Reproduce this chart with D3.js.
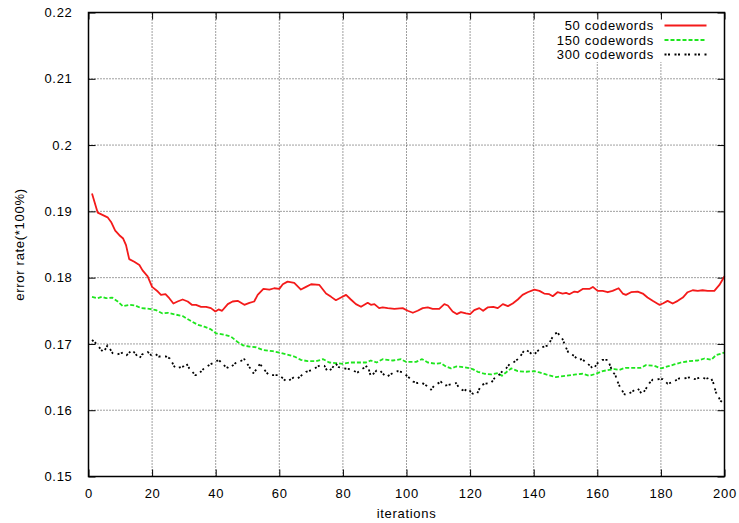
<!DOCTYPE html>
<html>
<head>
<meta charset="utf-8">
<script src="https://cdn.jsdelivr.net/npm/d3@7/dist/d3.min.js"></script>
<style>
  html, body { margin: 0; padding: 0; background: #fff; }
  svg { display: block; }
  text { font-family: "Liberation Sans", Arial, Helvetica, sans-serif; font-size: 13px; letter-spacing: 0.7px; fill: #000; }
</style>
</head>
<body>
<svg id="chart" width="739" height="523"></svg>
<script>
const xTicks = [0, 20, 40, 60, 80, 100, 120, 140, 160, 180, 200];
const yTicks = [0.15, 0.16, 0.17, 0.18, 0.19, 0.20, 0.21, 0.22];
const yTickLabels = ["0.15", "0.16", "0.17", "0.18", "0.19", "0.2", "0.21", "0.22"];
const seriesNames = ["50 codewords", "150 codewords", "300 codewords"];

const redX = [1.1,2.9,6,7.1,8.4,9.7,10.9,11.8,12.8,14.4,16,17,18.6,20,21.8,22.8,24.2,25.4,26.7,28,29.6,31.2,32.5,33.8,35.4,37,38.5,39.9,40.9,42,43.8,45.3,46.9,49,50.6,52.1,53.2,55,56.9,58.4,60,61.1,62.6,64.7,66.8,68.4,70,72.6,74.7,76.3,77.8,79.4,81,82.5,84.1,85.7,87.8,88.8,89.9,91.4,92.5,94.1,96.2,98.8,100.4,102,103.5,105.1,106.7,108.2,110.3,111.9,113,114.5,115.8,117.1,118.7,120,121.3,122.9,124.1,125.5,127.3,128.7,130.3,131.9,133.4,135,136.5,138.1,140.2,141.8,143.3,144.9,146,147.5,149.1,150.2,151.2,152.8,153.8,155.4,157.5,158.6,160.1,161.7,163.3,164.8,166.7,168,169,170.6,172.7,174.3,175.8,177.4,179.5,180.6,182.1,183.7,185.3,186.9,188.4,190,191.6,193.1,194.7,196.8,198.4,200];
const redY = [.1927,.1898,.1891,.1884,.1871,.1864,.1859,.1849,.1828,.1824,.1819,.1811,.1802,.1786,.1779,.1774,.1775,.1769,.1761,.1764,.1767,.1764,.1759,.1759,.1756,.1756,.1754,.1749,.1752,.1750,.1760,.1764,.1765,.1759,.1762,.1764,.1774,.1783,.1782,.1784,.1783,.1790,.1794,.1792,.1782,.1786,.1790,.1789,.1776,.1771,.1766,.1770,.1774,.1767,.1760,.1756,.1762,.1759,.1760,.1754,.1755,.1754,.1753,.1754,.1750,.1747,.1750,.1754,.1755,.1753,.1753,.1760,.1758,.1749,.1745,.1748,.1746,.1745,.1751,.1754,.1750,.1755,.1756,.1754,.1760,.1757,.1761,.1767,.1774,.1778,.1782,.1780,.1776,.1775,.1772,.1778,.1776,.1777,.1775,.1779,.1778,.1783,.1783,.1786,.1780,.1780,.1778,.1780,.1784,.1776,.1774,.1778,.1779,.1776,.1770,.1765,.1759,.1761,.1765,.1761,.1765,.1770,.1778,.1781,.1780,.1781,.1780,.1780,.1789,.1802];

const greenX = [1.1,2.9,4.2,5.5,7.4,9.2,10.8,12.8,14.7,16.5,19.1,21.2,23.3,24.9,26.7,29.6,31.7,34.3,36.4,38.5,40.1,42.7,44.8,46.9,48.5,50.6,52.7,54.8,57.9,60,63.1,64.7,66.8,68.9,71.5,73.8,75.7,77.8,79.9,82,84.1,87.3,88.8,90.6,92.5,95.7,98.3,99.8,103,104.9,106.7,109.3,110.8,112.4,114,115.6,118.2,120.8,122.4,124.5,126.6,128.7,130,131.3,132.9,135,137.6,140.2,141.8,143.9,147,150.2,153.3,155.4,157.5,159.6,161.7,163.8,165.4,167,168.8,171.2,173.7,175.3,177.9,180,182.1,184.2,186.3,188.9,191.6,193.7,195.8,197.3,200];
const greenY = [.1771,.1769,.1771,.1769,.1770,.1764,.1757,.1759,.1758,.1754,.1753,.1751,.1746,.1747,.1745,.1742,.1736,.1729,.1726,.1722,.1716,.1714,.1711,.1703,.1698,.1696,.1695,.1691,.1689,.1687,.1683,.1681,.1676,.1674,.1674,.1677,.1672,.1671,.1670,.1672,.1672,.1672,.1675,.1672,.1677,.1675,.1677,.1673,.1673,.1677,.1672,.1670,.1671,.1666,.1663,.1666,.1665,.1662,.1658,.1655,.1654,.1656,.1652,.1657,.1663,.1659,.1658,.1659,.1657,.1654,.1650,.1652,.1654,.1655,.1652,.1655,.1659,.1661,.1662,.1661,.1664,.1664,.1664,.1668,.1667,.1663,.1666,.1669,.1672,.1674,.1675,.1678,.1676,.1683,.1687];

const blackX = [1.1,2.1,3.9,4.7,6,7.6,8.9,10.9,12,13.7,14.4,16,16.8,18.6,19.7,21,22.1,24.4,25.6,27,27.5,29.8,30.7,31.7,33.6,34.3,36.1,38.2,39.6,40.9,43,44.3,46.2,47.4,49,49.8,50.6,51.8,52.9,53.9,55.3,56.7,58.7,60,61.6,62.4,64.7,65.8,67.1,68.4,70.5,72.8,74.2,75.2,76.6,77.6,78.7,80.4,82,84.6,86,87.8,88.8,90.6,91.4,93.6,95.7,97.2,98.8,100.4,102.1,103.5,104.6,106.7,107.7,108.7,110.8,111.9,113,115.6,116.6,118.2,119.2,120.8,122.1,123.4,124.5,126.6,127.6,129,130,131.3,132.5,133.9,135.3,136.7,137.4,138.8,139.9,141.6,142.6,144.7,145.4,146.5,147.5,149.1,150.2,151,152.8,153.8,155.2,158,158.7,160.1,161.5,163.3,164.8,165.7,166.2,167.2,168.6,169.3,171.6,172.7,174.1,175.1,176.4,177.4,179.5,180.6,182.1,183.5,185.8,187.4,189.5,190.6,193,194.1,195.6,196.5,197.3,198.8,200];
const blackY = [.1706,.1702,.1692,.1687,.1698,.1686,.1684,.1687,.1683,.1691,.1687,.1678,.1684,.1688,.1683,.1685,.1681,.1681,.1678,.1666,.1663,.1666,.1671,.1663,.1653,.1653,.1662,.1669,.1672,.1676,.1666,.1663,.1671,.1673,.1677,.1671,.1665,.1656,.1662,.1670,.1661,.1653,.1653,.1653,.1646,.1643,.1650,.1648,.1653,.1658,.1661,.1668,.1667,.1658,.1663,.1671,.1665,.1663,.1662,.1657,.1662,.1667,.1651,.1660,.1661,.1650,.1656,.1659,.1657,.1651,.1643,.1641,.1642,.1636,.1631,.1637,.1643,.1637,.1638,.1641,.1633,.1629,.1633,.1625,.1624,.1637,.1640,.1641,.1648,.1653,.1658,.1663,.1670,.1673,.1678,.1688,.1692,.1687,.1683,.1691,.1695,.1698,.1706,.1715,.1717,.1707,.1694,.1686,.1682,.1676,.1677,.1666,.1662,.1671,.1676,.1676,.1658,.1653,.1645,.1634,.1624,.1623,.1630,.1633,.1624,.1631,.1641,.1646,.1647,.1647,.1640,.1642,.1648,.1648,.1650,.1647,.1650,.1647,.1650,.1641,.1627,.1614,.1610];

const svg = d3.select("#chart");
const L = 88.5, R = 724.5, T = 12.5, B = 476.5;
const x = d3.scaleLinear().domain([0, 200]).range([L, R]);
const y = d3.scaleLinear().domain([0.15, 0.22]).range([B, T]);

// grid
const grid = svg.append("g");
xTicks.slice(1, -1).forEach(t => {
  grid.append("line").attr("x1", x(t)).attr("x2", x(t)).attr("y1", B).attr("y2", T)
    .attr("stroke", "#000").attr("stroke-width", 1).attr("stroke-dasharray", "1,2").attr("opacity", 0.75);
});
yTicks.slice(1, -1).forEach(t => {
  grid.append("line").attr("x1", L).attr("x2", R).attr("y1", y(t)).attr("y2", y(t))
    .attr("stroke", "#000").attr("stroke-width", 1).attr("stroke-dasharray", "1,2").attr("opacity", 0.75);
});

// legend mask
svg.append("rect").attr("x", 552).attr("y", 16).attr("width", 161).attr("height", 46).attr("fill", "#fff");

// axes with inward ticks
const tl = 7;
svg.append("g").attr("transform", `translate(0,${B})`)
  .call(d3.axisBottom(x).tickValues(xTicks).tickSize(-tl).tickPadding(tl + 5).tickFormat(d3.format("d")))
  .call(g => g.select(".domain").remove());
svg.append("g").attr("transform", `translate(0,${T})`)
  .call(d3.axisTop(x).tickValues(xTicks).tickSize(-tl).tickFormat(""))
  .call(g => g.select(".domain").remove());
svg.append("g").attr("transform", `translate(${L},0)`)
  .call(d3.axisLeft(y).tickValues(yTicks).tickSize(-tl).tickPadding(tl + 9).tickFormat((d, i) => yTickLabels[i]))
  .call(g => g.select(".domain").remove());
svg.append("g").attr("transform", `translate(${R},0)`)
  .call(d3.axisRight(y).tickValues(yTicks).tickSize(-tl).tickFormat(""))
  .call(g => g.select(".domain").remove());
svg.selectAll(".tick line").attr("stroke", "#000").attr("stroke-width", 1);
svg.selectAll(".tick text").style("font-family", "\"Liberation Sans\", Arial, sans-serif")
  .style("font-size", "13px").style("letter-spacing", "0.7px").attr("fill", "#000");

// series
const mk = (xs, ys) => xs.map((v, i) => [v, ys[i]]);
const line = d3.line().x(d => x(d[0])).y(d => y(d[1]));
const series = [
  { name: seriesNames[0], data: mk(redX, redY), color: "#f41a1a", dash: null },
  { name: seriesNames[1], data: mk(greenX, greenY), color: "#1ee61e", dash: "4,2" },
  { name: seriesNames[2], data: mk(blackX, blackY), color: "#000", dash: "2,1.5,2,4.5" }
];
series.forEach(s => {
  svg.append("path").attr("d", line(s.data)).attr("fill", "none")
    .attr("stroke", s.color).attr("stroke-width", 1.8)
    .attr("stroke-dasharray", s.dash).attr("stroke-linejoin", "round");
});

// frame
svg.append("rect").attr("x", L).attr("y", T).attr("width", R - L).attr("height", B - T)
  .attr("fill", "none").attr("stroke", "#000").attr("stroke-width", 1.5);

// legend
const rows = [25.5, 40, 54.5];
series.forEach((s, i) => {
  svg.append("text").attr("x", 654).attr("y", rows[i] + 4.5).attr("text-anchor", "end").text(s.name);
  svg.append("line").attr("x1", 664.5).attr("x2", 706.5).attr("y1", rows[i]).attr("y2", rows[i])
    .attr("stroke", s.color).attr("stroke-width", 1.8).attr("stroke-dasharray", s.dash);
});

// axis titles
svg.append("text").attr("x", (L + R) / 2).attr("y", 518).attr("text-anchor", "middle").text("iterations");
svg.append("text").attr("transform", `translate(24,${(T + B) / 2}) rotate(-90)`).attr("text-anchor", "middle").text("error rate(*100%)");
</script>
</body>
</html>
